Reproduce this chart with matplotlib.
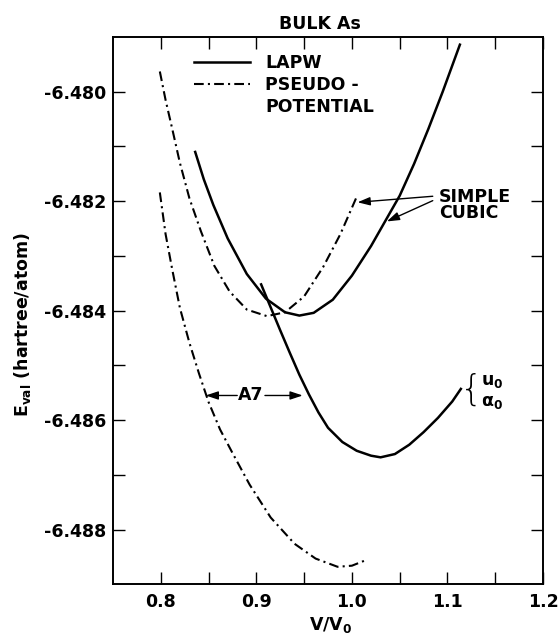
import matplotlib
matplotlib.use('Agg')
import matplotlib.pyplot as plt
from matplotlib.ticker import FixedLocator
from matplotlib.lines import Line2D

plt.rcParams['font.family'] = ['DejaVu Sans']
plt.rcParams['font.weight'] = 'bold'
plt.rcParams['axes.labelweight'] = 'bold'
plt.rcParams['axes.titleweight'] = 'bold'
plt.rcParams['axes.unicode_minus'] = False
plt.rcParams['mathtext.default'] = 'bf'
plt.rcParams['lines.scale_dashes'] = False

# ---------------- data ----------------
# Simple cubic, LAPW (solid)
lapw_sc_x = [0.836, 0.845, 0.855, 0.870, 0.890, 0.910, 0.930, 0.945, 0.960, 0.980,
             1.000, 1.020, 1.035, 1.050, 1.065, 1.080, 1.095, 1.113]
lapw_sc_y = [-6.48110, -6.48160, -6.48207, -6.48268, -6.48333, -6.48378, -6.48403,
             -6.48409, -6.48404, -6.48380, -6.48336, -6.48282, -6.48236, -6.48190,
             -6.48132, -6.48068, -6.48000, -6.47914]

# Simple cubic, pseudopotential (dash-dot)
pp_sc_x = [0.799, 0.805, 0.812, 0.820, 0.830, 0.842, 0.856, 0.872, 0.890, 0.911,
           0.930, 0.950, 0.970, 0.988, 1.006]
pp_sc_y = [-6.47963, -6.48015, -6.48068, -6.48130, -6.48195, -6.48255, -6.48318,
           -6.48365, -6.48398, -6.48410, -6.48403, -6.48374, -6.48320, -6.48260,
           -6.48188]

# A7 structure, LAPW (solid)
lapw_a7_x = [0.905, 0.915, 0.925, 0.935, 0.945, 0.955, 0.965, 0.975, 0.990, 1.005,
             1.020, 1.030, 1.045, 1.060, 1.075, 1.090, 1.105, 1.114]
lapw_a7_y = [-6.48352, -6.48394, -6.48436, -6.48477, -6.48517, -6.48553, -6.48586,
             -6.48614, -6.48640, -6.48656, -6.48665, -6.48668, -6.48662, -6.48645,
             -6.48622, -6.48596, -6.48566, -6.48543]

# A7 structure, pseudopotential (dash-dot)
pp_a7_x = [0.799, 0.805, 0.812, 0.820, 0.830, 0.840, 0.850, 0.862, 0.875, 0.893,
           0.915, 0.940, 0.962, 0.985, 1.000, 1.013]
pp_a7_y = [-6.48184, -6.48260, -6.48325, -6.48395, -6.48459, -6.48515, -6.48567,
           -6.48617, -6.48660, -6.48718, -6.48778, -6.48826, -6.48853, -6.48868,
           -6.48866, -6.48857]

x_major = [0.8, 0.9, 1.0, 1.1, 1.2]
x_minor = [0.85, 0.95, 1.05, 1.15]
x_labels = ['0.8', '0.9', '1.0', '1.1', '1.2']
y_major = [-6.488, -6.486, -6.484, -6.482, -6.480]
y_minor = [-6.487, -6.485, -6.483, -6.481]
y_labels = ['-6.488', '-6.486', '-6.484', '-6.482', '-6.480']

# ---------------- figure ----------------
FS = 12.5
fig = plt.figure(figsize=(5.6, 6.39), dpi=100)
ax = fig.add_axes([0.2018, 0.0856, 0.7679, 0.8565])

DASHDOT = (0, (7, 3, 1.5, 3))
l_lapw, = ax.plot(lapw_sc_x, lapw_sc_y, color='black', lw=1.8)
ax.plot(lapw_a7_x, lapw_a7_y, color='black', lw=1.8)
l_pp, = ax.plot(pp_sc_x, pp_sc_y, color='black', lw=1.5, linestyle=DASHDOT)
ax.plot(pp_a7_x, pp_a7_y, color='black', lw=1.5, linestyle=DASHDOT)

ax.set_xlim(0.75, 1.2)
ax.set_ylim(-6.489, -6.479)

ax.xaxis.set_major_locator(FixedLocator(x_major))
ax.xaxis.set_minor_locator(FixedLocator(x_minor))
ax.set_xticklabels(x_labels)
ax.yaxis.set_major_locator(FixedLocator(y_major))
ax.yaxis.set_minor_locator(FixedLocator(y_minor))
ax.set_yticklabels(y_labels)

ax.tick_params(which='both', direction='in', length=8.6, width=1.0,
               top=True, right=True, labelsize=FS)
ax.tick_params(axis='x', pad=6)
ax.tick_params(axis='y', pad=5)
for s in ax.spines.values():
    s.set_linewidth(1.4)

ax.set_title('BULK As', x=0.481, pad=6, fontsize=FS, fontweight='bold')
ax.set_xlabel('V/V$_0$', fontsize=FS, fontweight='bold')
ax.xaxis.set_label_coords(0.505, -0.056)
ax.set_ylabel('E$_{val}$ (hartree/atom)', fontsize=FS, fontweight='bold')
ax.yaxis.set_label_coords(-0.186, 0.474)

# legend
blank = Line2D([], [], color='none')
ax.legend([l_lapw, l_pp, blank], ['LAPW', 'PSEUDO -', 'POTENTIAL'],
          loc='upper left', bbox_to_anchor=(0.189, 0.969), frameon=False,
          fontsize=FS, handlelength=3.2, handletextpad=0.9, labelspacing=0.22,
          borderpad=0, borderaxespad=0)

arrow = dict(arrowstyle='-|>,head_length=0.75,head_width=0.25', color='black',
             lw=1.0, shrinkA=0, shrinkB=0)

# A7 label
ax.text(0.894, -6.48555, 'A7', ha='center', va='center', fontsize=FS)
ax.annotate('', xy=(0.847, -6.48555), xytext=(0.880, -6.48555), arrowprops=arrow)
ax.annotate('', xy=(0.9485, -6.48555), xytext=(0.909, -6.48555), arrowprops=arrow)

# SIMPLE CUBIC label
ax.text(1.0912, -6.48207, 'SIMPLE\nCUBIC', ha='left', va='center', fontsize=FS,
        linespacing=0.9)
ax.annotate('', xy=(1.0059, -6.48202), xytext=(1.0846, -6.48191), arrowprops=arrow)
ax.annotate('', xy=(1.0366, -6.48237), xytext=(1.0846, -6.48199), arrowprops=arrow)

# brace with u0 / alpha0
ax.text(1.1248, -6.48545, '{', fontsize=26, ha='center', va='center',
        fontweight='light')
ax.text(1.135, -6.48528, 'u$_0$', ha='left', va='center', fontsize=FS)
ax.text(1.135, -6.48567, 'α$_0$', ha='left', va='center', fontsize=FS)

fig.savefig('out.png', dpi=100)
